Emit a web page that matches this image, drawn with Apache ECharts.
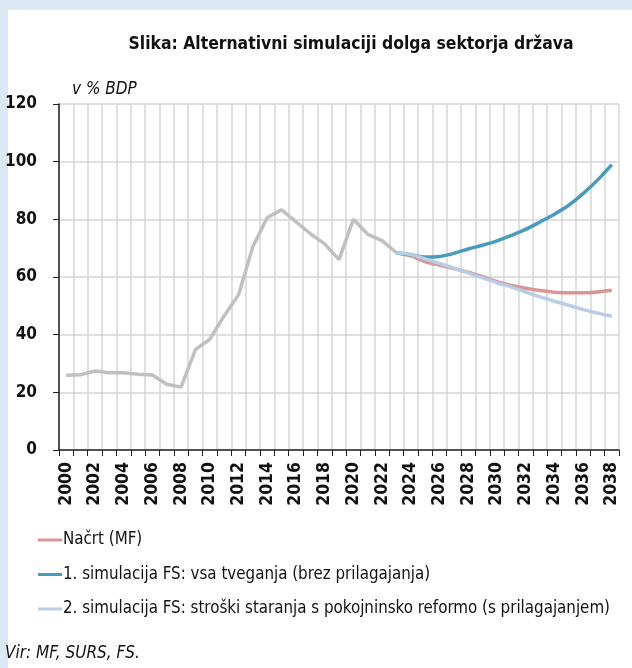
<!DOCTYPE html>
<html>
<head>
<meta charset="utf-8">
<script src="https://cdn.jsdelivr.net/npm/echarts@6/dist/echarts.min.js"></script>
<style>
  html, body { margin: 0; padding: 0; background: #dce8f5; }
  #panel { position: absolute; left: 8px; top: 10px; width: 624px; height: 658px; background: #fff; }
  #main { position: absolute; left: 0; top: 0; width: 632px; height: 668px; }
</style>
</head>
<body>
<div id="panel"></div>
<div id="main"></div>
<script>
  // leta
  const years = []
  for (let y = 2000; y <= 2038; y++) years.push(String(y))

  // dejanski dolg 2000-2023
  const history = [25.9, 26.1, 27.4, 26.8, 26.8, 26.3, 26.0, 22.8, 21.8, 34.8, 38.4, 46.5, 53.8, 70.5, 80.6, 83.3, 79.2, 75.0, 71.5, 66.0, 80.0, 74.8, 72.6, 68.4]

  // projekcije 2023-2038
  const nacrt = [68.4, 67.3, 65.3, 64.1, 62.9, 61.7, 60.1, 58.4, 57.1, 56.1, 55.3, 54.7, 54.5, 54.5, 54.8, 55.4]
  const sim1 = [68.4, 67.7, 66.9, 67.1, 68.2, 69.7, 71.0, 72.5, 74.4, 76.5, 79.1, 81.8, 84.9, 88.9, 93.6, 99.0]
  const sim2 = [68.4, 67.8, 66.3, 64.7, 63.1, 61.4, 59.7, 58.0, 56.5, 54.8, 53.1, 51.6, 50.2, 48.7, 47.5, 46.4]

  const names = ['Načrt (MF)', '1. simulacija FS: vsa tveganja (brez prilagajanja)', '2. simulacija FS: stroški staranja s pokojninsko reformo (s prilagajanjem)']

  // projekcije se začnejo leta 2023
  const pad = arr => Array(history.length - 1).fill(null).concat(arr)

  const font = '"DejaVu Sans Condensed", "Liberation Sans Narrow", sans-serif'

  const chart = echarts.init(document.getElementById('main'))
  chart.setOption({
    animation: false,
    title: [
      {
        text: 'Slika: Alternativni simulaciji dolga sektorja država',
        left: 346, top: 31, textAlign: 'center',
        textStyle: { fontFamily: font, fontSize: 17.4, fontWeight: 'bold', color: '#111' }
      },
      {
        text: 'v % BDP',
        left: 67, top: 76,
        textStyle: { fontFamily: font, fontSize: 17, fontStyle: 'italic', fontWeight: 'normal', color: '#111' }
      },
      {
        text: 'Vir: MF, SURS, FS.',
        left: 0, top: 640,
        textStyle: { fontFamily: font, fontSize: 17, fontStyle: 'italic', fontWeight: 'normal', color: '#111' }
      }
    ],
    legend: {
      orient: 'vertical',
      left: 33, top: 525,
      data: names,
      icon: 'rect',
      itemWidth: 24, itemHeight: 3,
      itemGap: 14.5,
      textStyle: { fontFamily: font, fontSize: 16.8, color: '#111', lineHeight: 20, padding: [0, 0, 0, -4] }
    },
    grid: { left: 59, right: 13, top: 104, bottom: 218 },
    xAxis: {
      type: 'category',
      data: years,
      boundaryGap: true,
      axisLine: { lineStyle: { color: '#222', width: 1.5 } },
      axisTick: { show: true, interval: 0, length: 6, lineStyle: { color: '#222' } },
      axisLabel: { interval: 1, rotate: 90, margin: 12, fontFamily: font, fontSize: 17.5, fontWeight: 'bold', color: '#111' },
      splitLine: { show: true, interval: 0, lineStyle: { color: '#d6d6d6', width: 1.5 } }
    },
    yAxis: {
      type: 'value',
      min: 0, max: 120, interval: 20,
      axisLine: { show: true, lineStyle: { color: '#222', width: 1.5 } },
      axisTick: { show: true, length: 6, lineStyle: { color: '#222' } },
      axisLabel: { margin: 22, fontFamily: font, fontSize: 17, fontWeight: 'bold', color: '#111' },
      splitLine: { lineStyle: { color: '#d6d6d6', width: 1.5 } }
    },
    series: [
      {
        name: 'zgodovina', type: 'line', data: history,
        symbol: 'none', lineStyle: { color: '#c0c0c0', width: 3.5 }, itemStyle: { color: '#c0c0c0' }
      },
      {
        name: names[0], type: 'line', data: pad(nacrt), smooth: 0.3,
        symbol: 'none', lineStyle: { color: '#d99694', width: 3.5 }, itemStyle: { color: '#d99694' }
      },
      {
        name: names[1], type: 'line', data: pad(sim1), smooth: 0.3,
        symbol: 'none', lineStyle: { color: '#4a9bbb', width: 3.5 }, itemStyle: { color: '#4a9bbb' }
      },
      {
        name: names[2], type: 'line', data: pad(sim2), smooth: 0.3,
        symbol: 'none', lineStyle: { color: '#b9cde5', width: 3.5 }, itemStyle: { color: '#b9cde5' }
      }
    ]
  })
</script>
</body>
</html>
